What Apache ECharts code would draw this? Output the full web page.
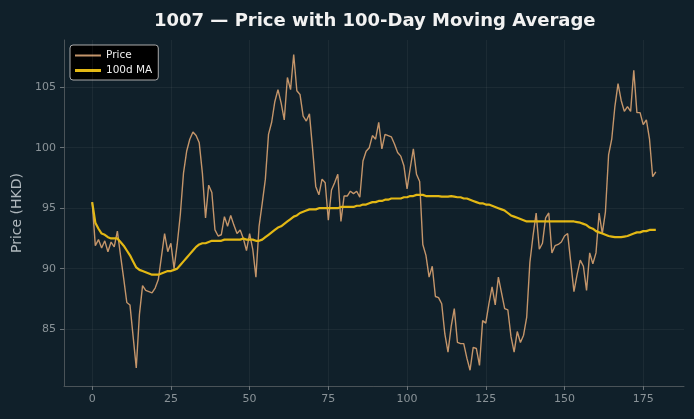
<!DOCTYPE html>
<html>
<head>
<meta charset="utf-8">
<script src="https://cdn.jsdelivr.net/npm/echarts@6/dist/echarts.min.js"></script>
<style>
  html, body { margin: 0; padding: 0; background: #10202a; }
  #chart { width: 694px; height: 419px; }
</style>
</head>
<body>
<div id="chart"></div>
<script>
// closing prices, day 0..179
var price = [
    95.5, 91.9, 92.4, 91.7, 92.3, 91.4, 92.2, 91.8, 93.1, 91.1,
    89.2, 87.2, 87.0, 84.4, 81.8, 86.2, 88.6, 88.2, 88.1, 88.0,
    88.4, 89.1, 91.0, 92.9, 91.4, 92.1, 90.0, 92.0, 94.5, 97.9,
    99.7, 100.7, 101.3, 101.0, 100.4, 97.9, 94.2, 96.9, 96.3, 93.2,
    92.7, 92.8, 94.3, 93.5, 94.4, 93.6, 92.9, 93.2, 92.5, 91.5,
    92.9, 91.6, 89.3, 93.5, 95.4, 97.4, 101.1, 102.1, 103.8, 104.8,
    103.7, 102.3, 105.8, 104.8, 107.7, 104.7, 104.4, 102.6, 102.2, 102.8,
    99.9, 96.8, 96.1, 97.4, 97.1, 94.0, 96.5, 97.1, 97.8, 93.9,
    96.0, 96.0, 96.4, 96.2, 96.4, 95.9, 98.9, 99.7, 100.0, 101.0,
    100.7, 102.1, 99.9, 101.1, 101.0, 100.9, 100.3, 99.6, 99.3, 98.5,
    96.6, 98.3, 99.9, 97.8, 97.2, 92.0, 91.1, 89.3, 90.2, 87.7,
    87.6, 87.1, 84.6, 83.1, 85.2, 86.7, 83.9, 83.8, 83.8, 82.6,
    81.6, 83.5, 83.4, 82.0, 85.7, 85.5, 87.1, 88.5, 87.0, 89.3,
    88.0, 86.7, 86.6, 84.4, 83.1, 84.8, 83.9, 84.5, 86.0, 90.5,
    92.7, 94.6, 91.6, 92.1, 94.2, 94.6, 91.3, 91.9, 92.0, 92.2,
    92.7, 92.9, 90.5, 88.1, 89.5, 90.7, 90.2, 88.2, 91.3, 90.4,
    91.3, 94.6, 92.9, 94.7, 99.4, 100.7, 103.4, 105.3, 103.9, 103.0,
    103.4, 103.0, 106.4, 102.9, 102.9, 101.9, 102.3, 100.7, 97.6, 98.0
];
// 100-day moving average
var ma100 = [
    95.5, 93.8, 93.3, 92.9, 92.8, 92.6, 92.5, 92.5, 92.5, 92.2,
    91.9, 91.5, 91.1, 90.6, 90.1, 89.9, 89.8, 89.7, 89.6, 89.5,
    89.5, 89.5, 89.6, 89.7, 89.8, 89.8, 89.9, 90.0, 90.3, 90.6,
    90.9, 91.2, 91.5, 91.8, 92.0, 92.1, 92.1, 92.2, 92.3, 92.3,
    92.3, 92.3, 92.4, 92.4, 92.4, 92.4, 92.4, 92.4, 92.5, 92.4,
    92.4, 92.4, 92.3, 92.3, 92.4, 92.6, 92.8, 93.0, 93.2, 93.4,
    93.5, 93.7, 93.9, 94.1, 94.3, 94.4, 94.6, 94.7, 94.8, 94.9,
    94.9, 94.9, 95.0, 95.0, 95.0, 95.0, 95.0, 95.0, 95.0, 95.1,
    95.1, 95.1, 95.1, 95.1, 95.2, 95.2, 95.3, 95.3, 95.4, 95.5,
    95.5, 95.6, 95.6, 95.7, 95.7, 95.8, 95.8, 95.8, 95.8, 95.9,
    95.9, 96.0, 96.0, 96.1, 96.1, 96.1, 96.0, 96.0, 96.0, 96.0,
    96.0, 95.95, 95.95, 95.95, 96.0, 95.95, 95.9, 95.9, 95.8, 95.8,
    95.7, 95.6, 95.5, 95.4, 95.4, 95.3, 95.3, 95.2, 95.1, 95.0,
    94.9, 94.8, 94.6, 94.4, 94.3, 94.2, 94.1, 94.0, 93.9, 93.9,
    93.9, 93.9, 93.9, 93.9, 93.9, 93.9, 93.9, 93.9, 93.9, 93.9,
    93.9, 93.9, 93.9, 93.9, 93.85, 93.8, 93.7, 93.6, 93.4, 93.3,
    93.1, 93.0, 92.9, 92.8, 92.7, 92.65, 92.6, 92.6, 92.6, 92.65,
    92.7, 92.8, 92.9, 93.0, 93.0, 93.1, 93.1, 93.2, 93.2, 93.2
];
var xTicks = [0, 25, 50, 75, 100, 125, 150, 175];
var yTicks = [85, 90, 95, 100, 105];

var priceData = price.map(function (v, i) { return [i, v]; });
var maData = ma100.map(function (v, i) { return [i, v]; });

var chart = echarts.init(document.getElementById('chart'));
var gridColor = 'rgba(255,255,255,0.05)';
var option = {
    backgroundColor: '#10202a',
    animation: false,
    title: {
        text: '1007 — Price with 100-Day Moving Average',
        left: 149,
        top: 7,
        textStyle: { color: '#f2f2f2', fontSize: 18, fontWeight: 'bold', fontFamily: 'DejaVu Sans' }
    },
    legend: {
        left: 70,
        top: 45,
        orient: 'vertical',
        itemGap: 4,
        itemWidth: 26,
        itemHeight: 10,
        padding: [5, 6, 4, 5],
        backgroundColor: '#000',
        borderColor: '#aaa',
        borderWidth: 1,
        borderRadius: 3,
        textStyle: { color: '#eee', fontSize: 10.5, fontFamily: 'DejaVu Sans' },
        data: [
            { name: 'Price', icon: 'path://M0,4 L26,4 L26,6 L0,6 Z' },
            { name: '100d MA', icon: 'path://M0,3.5 L26,3.5 L26,6.5 L0,6.5 Z' }
        ]
    },
    grid: { left: 64, right: 10, top: 40, bottom: 33 },
    xAxis: {
        type: 'value',
        min: -8.95,
        max: 187.95,
        axisLine: { show: true, onZero: false, lineStyle: { color: '#4a5358' } },
        axisTick: { show: true, customValues: xTicks, length: 4, lineStyle: { color: '#6a7378' } },
        axisLabel: { customValues: xTicks, color: '#8a9398', fontSize: 11, margin: 8, fontFamily: 'DejaVu Sans' },
        splitLine: { show: false }
    },
    yAxis: {
        type: 'value',
        min: 80.3,
        max: 108.9,
        name: 'Price (HKD)',
        nameLocation: 'middle',
        nameGap: 39,
        nameTextStyle: { color: '#b0b8bd', fontSize: 14, fontFamily: 'DejaVu Sans' },
        axisLine: { show: true, onZero: false, lineStyle: { color: '#4a5358' } },
        axisTick: { show: true, customValues: yTicks, length: 4, lineStyle: { color: '#6a7378' } },
        axisLabel: { customValues: yTicks, color: '#8a9398', fontSize: 11, margin: 8, fontFamily: 'DejaVu Sans' },
        splitLine: { show: false }
    },
    series: [
        {
            name: 'Price',
            type: 'line',
            data: priceData,
            showSymbol: false,
            lineStyle: { color: '#c4956a', width: 1.4 },
            itemStyle: { color: '#c4956a' },
            markLine: {
                silent: true,
                symbol: 'none',
                label: { show: false },
                lineStyle: { color: gridColor, type: 'solid', width: 1 },
                data: xTicks.map(function (t) { return { xAxis: t }; })
                    .concat(yTicks.map(function (t) { return { yAxis: t }; }))
            },
            z: 2
        },
        {
            name: '100d MA',
            type: 'line',
            data: maData,
            showSymbol: false,
            lineStyle: { color: '#e3b814', width: 2.2 },
            itemStyle: { color: '#e3b814' },
            z: 3
        }
    ]
};
chart.setOption(option);
</script>
</body>
</html>
